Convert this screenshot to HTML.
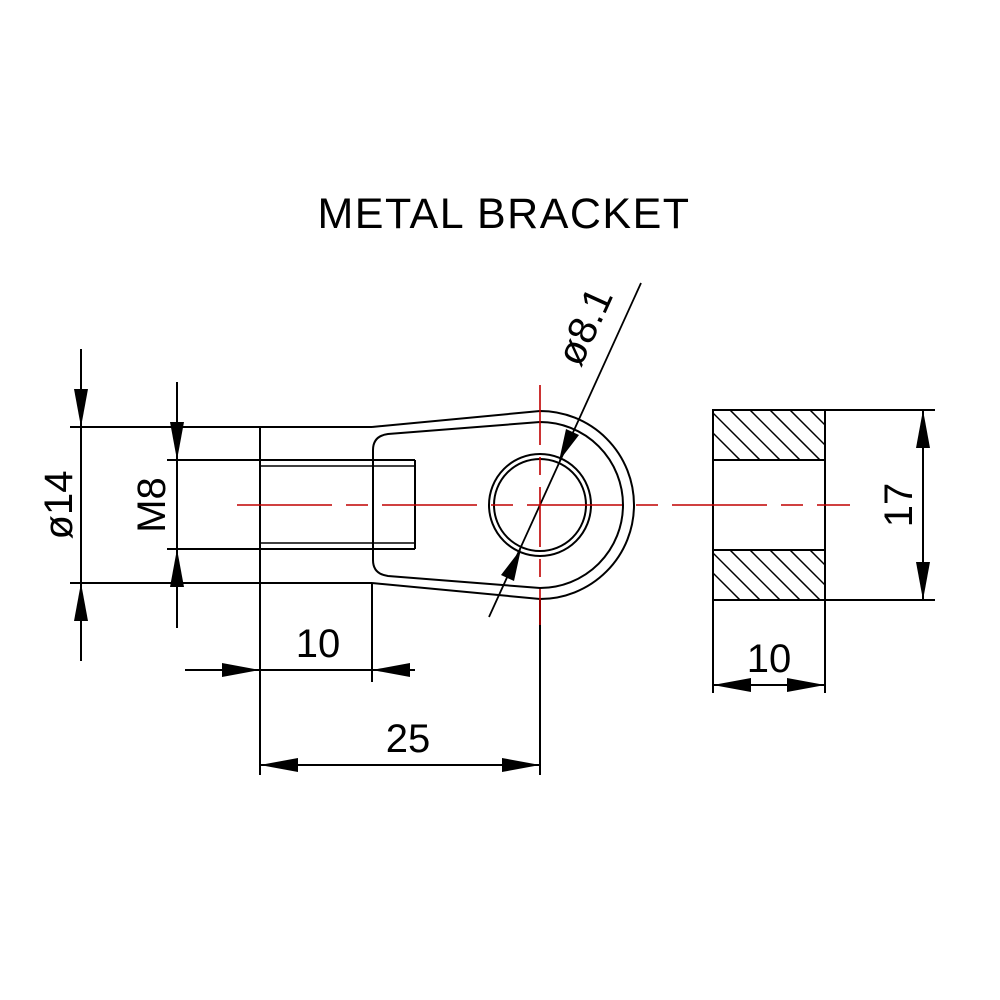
<!DOCTYPE html>
<html><head><meta charset="utf-8"><style>body{margin:0;background:#fff}svg{display:block}</style></head><body>
<svg width="1000" height="1000" viewBox="0 0 1000 1000" xmlns="http://www.w3.org/2000/svg">
<rect width="1000" height="1000" fill="#fff"/>
<defs>
<clipPath id="ht"><rect x="713" y="410" width="112" height="50"/></clipPath>
<clipPath id="hb"><rect x="713" y="550" width="112" height="50"/></clipPath>
</defs>
<text x="504" y="228" text-anchor="middle" font-family="Liberation Sans, sans-serif" font-size="43" letter-spacing="1.5" fill="#000">METAL BRACKET</text>
<g stroke="#000" stroke-width="2" fill="none">
<line x1="70" y1="427" x2="372" y2="427"/>
<line x1="70" y1="583" x2="372" y2="583"/>
<line x1="167" y1="460" x2="415" y2="460"/>
<line x1="167" y1="549" x2="415" y2="549"/>
<line x1="260" y1="466" x2="415" y2="466" stroke-width="1.5"/>
<line x1="260" y1="543" x2="415" y2="543" stroke-width="1.5"/>
<line x1="260" y1="427" x2="260" y2="775"/>
<line x1="372" y1="583" x2="372" y2="682"/>
<line x1="415" y1="460" x2="415" y2="549"/>
<path d="M372 427 L540 411 A94 94 0 0 1 540 599 L372 583"/>
<path d="M373 450 Q373 436 388 434 L540 422 A83 83 0 0 1 540 588 L388 576 Q373 574 373 560 Z"/>
<circle cx="540" cy="505" r="51"/>
<circle cx="540" cy="505" r="46"/>
<line x1="540" y1="600" x2="540" y2="775"/>
<line x1="489" y1="617" x2="641" y2="283" stroke-width="1.8"/>
<line x1="81" y1="349" x2="81" y2="661"/>
<line x1="177" y1="382" x2="177" y2="628"/>
<line x1="185" y1="670" x2="415" y2="670"/>
<line x1="260" y1="765" x2="540" y2="765"/>
<rect x="713" y="410" width="112" height="190"/>
<line x1="713" y1="460" x2="825" y2="460"/>
<line x1="713" y1="550" x2="825" y2="550"/>
<line x1="825" y1="410" x2="935" y2="410"/>
<line x1="825" y1="600" x2="935" y2="600"/>
<line x1="923" y1="410" x2="923" y2="600"/>
<line x1="713" y1="600" x2="713" y2="693"/>
<line x1="825" y1="600" x2="825" y2="693"/>
<line x1="713" y1="685" x2="825" y2="685"/>
</g>
<g stroke="#000" stroke-width="1.5">
<g clip-path="url(#ht)">
<line x1="700" y1="400" x2="780" y2="480"/><line x1="720" y1="400" x2="800" y2="480"/><line x1="740" y1="400" x2="820" y2="480"/><line x1="760" y1="400" x2="840" y2="480"/><line x1="780" y1="400" x2="860" y2="480"/><line x1="800" y1="400" x2="880" y2="480"/><line x1="680" y1="400" x2="760" y2="480"/>
</g>
<g clip-path="url(#hb)">
<line x1="700" y1="540" x2="780" y2="620"/><line x1="720" y1="540" x2="800" y2="620"/><line x1="740" y1="540" x2="820" y2="620"/><line x1="760" y1="540" x2="840" y2="620"/><line x1="780" y1="540" x2="860" y2="620"/><line x1="800" y1="540" x2="880" y2="620"/><line x1="680" y1="540" x2="760" y2="620"/>
</g>
</g>
<g stroke="#c00000" stroke-width="1.6" fill="none">
<line x1="237" y1="505" x2="850" y2="505" stroke-dasharray="95 14 22 14"/>
<line x1="540" y1="385" x2="540" y2="625" stroke-dasharray="60 12 18 12"/>
</g>
<g fill="#000">
<polygon points="81,427 74,389 88,389"/>
<polygon points="81,583 74,621 88,621"/>
<polygon points="177,460 170,422 184,422"/>
<polygon points="177,549 170,587 184,587"/>
<polygon points="260,670 222,663 222,677"/>
<polygon points="372,670 410,663 410,677"/>
<polygon points="260,765 298,758 298,772"/>
<polygon points="540,765 502,758 502,772"/>
<polygon points="923,410 916,448 930,448"/>
<polygon points="923,600 916,562 930,562"/>
<polygon points="713,685 751,678 751,692"/>
<polygon points="825,685 787,678 787,692"/>
<polygon points="559,461 566,429 579,435"/>
<polygon points="521,549 514,581 501,575"/>
</g>
<g font-family="Liberation Sans, sans-serif" font-size="40" fill="#000">
<text x="318" y="657" text-anchor="middle">10</text>
<text x="408" y="752" text-anchor="middle">25</text>
<text x="769" y="672" text-anchor="middle">10</text>
<text transform="translate(72,505) rotate(-90)" text-anchor="middle">ø14</text>
<text transform="translate(165,505) rotate(-90)" text-anchor="middle">M8</text>
<text transform="translate(912,505) rotate(-90)" text-anchor="middle">17</text>
<text transform="translate(597,332) rotate(-65.5)" text-anchor="middle">ø8.1</text>
</g>
</svg>
</body></html>
